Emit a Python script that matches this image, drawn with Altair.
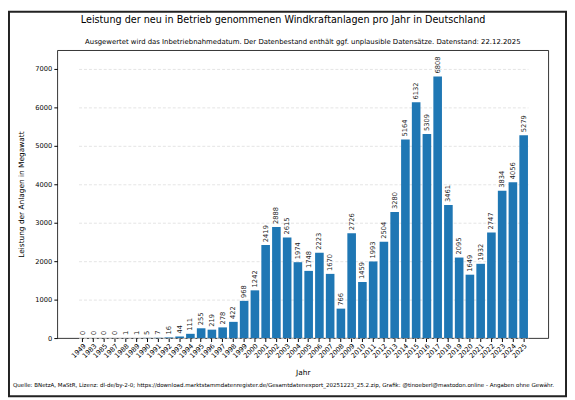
import altair as alt
import pandas as pd

years = ["1949", "1983", "1985", "1987", "1988", "1989", "1990", "1991", "1992", "1993",
         "1994", "1995", "1996", "1997", "1998", "1999", "2000", "2001", "2002", "2003",
         "2004", "2005", "2006", "2007", "2008", "2009", "2010", "2011", "2012", "2013",
         "2014", "2015", "2016", "2017", "2018", "2019", "2020", "2021", "2022", "2023",
         "2024", "2025"]
values = [0, 0, 0, 0, 1, 1, 5, 7, 16, 44,
          111, 255, 219, 278, 422, 968, 1242, 2419, 2888, 2615,
          1974, 1748, 2223, 1670, 766, 2726, 1459, 1993, 2504, 3280,
          5164, 6132, 5309, 6808, 3461, 2095, 1649, 1932, 2747, 3834,
          4056, 5279]
y_ticks = [0, 1000, 2000, 3000, 4000, 5000, 6000, 7000]

title = "Leistung der neu in Betrieb genommenen Windkraftanlagen pro Jahr in Deutschland"
subtitle = ("Ausgewertet wird das Inbetriebnahmedatum. Der Datenbestand enthält ggf. "
            "unplausible Datensätze. Datenstand: 22.12.2025")
footer = ("Quelle: BNetzA, MaStR, Lizenz: dl-de/by-2-0; "
          "https://download.marktstammdatenregister.de/Gesamtdatenexport_20251223_25.2.zip, "
          "Grafik: @tinoeberl@mastodon.online - Angaben ohne Gewähr.")

df = pd.DataFrame({"Jahr": years, "MW": values})

W, H = 498, 292

x_enc = alt.X(
    "Jahr:N", sort=None,
    scale=alt.Scale(paddingInner=0.2, paddingOuter=0, range=[21.6, 477.4]),
    axis=alt.Axis(
        title="Jahr", labelAngle=-45, labelAlign="right", labelBaseline="top",
        labelFontSize=6.8, labelColor="#000", labelPadding=1,
        tickSize=3.5, tickColor="#000", domain=False, grid=False,
        titleFontSize=7.5, titleFontWeight="normal", titleColor="#000",
        titleX=W / 2, titleY=35, titleBaseline="middle",
    ),
)
y_enc = alt.Y(
    "MW:Q",
    scale=alt.Scale(domain=[0, 7489], nice=False),
    axis=alt.Axis(
        title="Leistung der Anlagen in Megawatt", values=y_ticks, format="d",
        labelFontSize=6.8, labelColor="#000", labelPadding=2,
        tickSize=3.5, tickColor="#000", domain=False,
        grid=True, gridColor="#dddddd", gridDash=[3, 2], gridWidth=0.8,
        titleFontSize=7.5, titleFontWeight="normal", titleColor="#000",
        titleX=-36, titleY=H / 2, titleAngle=270, titleAlign="center",
        titleBaseline="middle",
    ),
)

bars = alt.Chart(df).mark_bar(color="#1f77b4").encode(x=x_enc, y=y_enc)
labels = alt.Chart(df).mark_text(
    angle=270, align="left", baseline="middle", dx=3, fontSize=6.8, color="#222"
).encode(x=alt.X("Jahr:N", sort=None), y="MW:Q", text="MW:Q")

t_title = alt.Chart(pd.DataFrame({"t": [title]})).mark_text(
    fontSize=9.75, color="#000", align="center", baseline="middle"
).encode(text="t:N", x=alt.value(229), y=alt.value(-31))
t_sub = alt.Chart(pd.DataFrame({"t": [subtitle]})).mark_text(
    fontSize=7, color="#000", align="center", baseline="middle"
).encode(text="t:N", x=alt.value(249), y=alt.value(-8))
t_foot = alt.Chart(pd.DataFrame({"t": [footer]})).mark_text(
    fontSize=5.6, color="#000", align="left", baseline="middle"
).encode(text="t:N", x=alt.value(-45), y=alt.value(340))
frame = alt.Chart(pd.DataFrame({"t": [1]})).mark_rect(
    fill="white", fillOpacity=0, stroke="#222", strokeWidth=2
).encode(x=alt.value(-49), x2=alt.value(516), y=alt.value(-39), y2=alt.value(351))

chart = alt.layer(bars, labels, t_title, t_sub, t_foot, frame).properties(
    width=W, height=H,
    autosize=alt.AutoSizeParams(type="none"),
    padding={"left": 50, "top": 40, "right": 19, "bottom": 60},
    background="white",
).configure(font="DejaVu Sans").configure_view(stroke="#000", strokeWidth=0.8)

chart.save("out.html", embed_options={"renderer": "svg", "actions": False})
